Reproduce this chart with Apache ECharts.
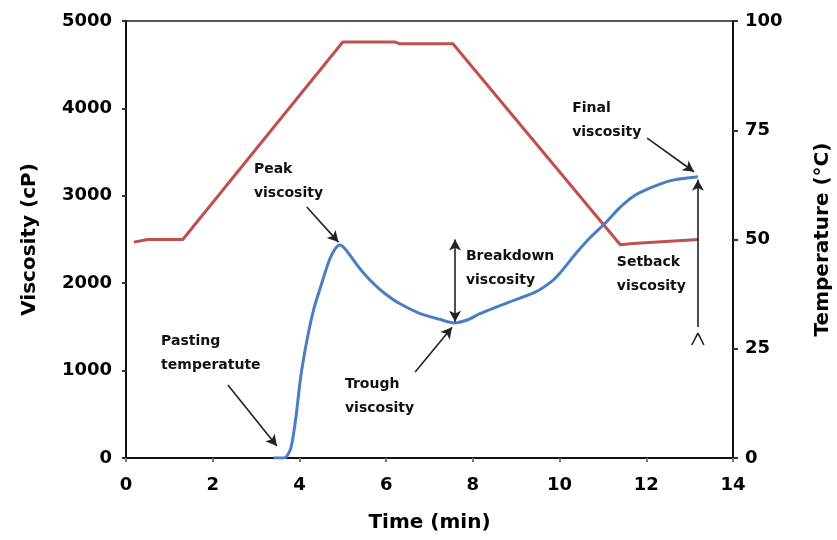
<!DOCTYPE html>
<html>
<head>
<meta charset="utf-8">
<script src="https://cdn.jsdelivr.net/npm/echarts@6/dist/echarts.min.js"></script>
<style>
  html, body { margin: 0; padding: 0; background: #fff; }
  #chart { width: 837px; height: 540px; }
</style>
</head>
<body>
<div id="chart"></div>
<script>
// temperature profile (right axis, °C)
const tempTime = [0.18, 0.5, 1.31, 5.0, 6.2, 6.3, 7.54, 11.4, 11.7, 13.2]
const tempValue = [49.4, 50, 50, 95.2, 95.2, 94.8, 94.8, 48.8, 49.1, 50]

// viscosity curve (left axis, cP)
const viscTime = [3.4, 3.65, 3.8, 3.92, 4.03, 4.19, 4.34, 4.5, 4.69, 4.82, 4.93, 5.05, 5.19, 5.38, 5.61, 5.84, 6.07, 6.3, 6.77, 7.23, 7.57, 7.9, 8.15, 8.77, 9.46, 9.84, 10.0, 10.38, 10.69, 11.08, 11.4, 11.69, 12.0, 12.46, 12.8, 13.19]
const viscValue = [0, 0, 110, 470, 930, 1390, 1720, 1975, 2265, 2390, 2437, 2395, 2303, 2175, 2045, 1935, 1845, 1770, 1655, 1587, 1545, 1585, 1648, 1770, 1903, 2030, 2110, 2342, 2514, 2700, 2870, 2990, 3070, 3160, 3195, 3219]

// annotation labels, anchored in (time, viscosity)
const noteText = ['Peak\nviscosity', 'Pasting\ntemperatute', 'Trough\nviscosity', 'Breakdown\nviscosity', 'Final\nviscosity', 'Setback\nviscosity']
const noteTime = [2.95, 0.81, 5.05, 7.84, 10.29, 11.32]
const noteVisc = [3169, 1201, 709, 2174, 3867, 2105]

// arrows: [fromTime, fromVisc, toTime, toVisc, double-headed]
const arrows = [
  [4.17, 2872, 4.9, 2470, false],
  [2.35, 835, 3.48, 137, false],
  [6.67, 984, 7.52, 1495, false],
  [7.59, 1560, 7.59, 2500, true],
  [12.02, 3661, 13.1, 3275, false],
  [13.19, 1499, 13.19, 3185, false]
]
// small caret under the setback arrow
const caret = [[13.05, 1293], [13.19, 1430], [13.33, 1293]]

const xTicks = { min: 0, max: 14, interval: 2 }
const viscTicks = { min: 0, max: 5000, interval: 1000 }
const tempTicks = { min: 0, max: 100, interval: 25 }

const chart = echarts.init(document.getElementById('chart'))

const tickFont = { fontFamily: 'DejaVu Sans', fontWeight: 'bold', fontSize: 18, color: '#000' }
const titleFont = { fontFamily: 'DejaVu Sans', fontWeight: 'bold', fontSize: 20, color: '#000' }

const arrowLines = arrows.map(a => [
  { coord: [a[0], a[1]], symbol: a[4] ? 'arrow' : 'none' },
  { coord: [a[2], a[3]], symbol: 'arrow' }
])
const caretLines = [
  [{ coord: caret[0], symbol: 'none' }, { coord: caret[1], symbol: 'none' }],
  [{ coord: caret[1], symbol: 'none' }, { coord: caret[2], symbol: 'none' }]
]

const option = {
  animation: false,
  grid: {
    left: 126, right: 104, top: 21, bottom: 82,
    outerBoundsMode: 'none',
    show: true, borderColor: '#555', borderWidth: 2, backgroundColor: 'transparent'
  },
  xAxis: {
    type: 'value',
    ...xTicks,
    name: 'Time (min)',
    nameLocation: 'middle',
    nameGap: 55,
    nameTextStyle: titleFont,
    axisLine: { show: true, lineStyle: { color: '#111', width: 2 } },
    axisTick: { show: true, length: 4, lineStyle: { color: '#777', width: 2 } },
    axisLabel: { ...tickFont, margin: 18 },
    splitLine: { show: false }
  },
  yAxis: [
    {
      type: 'value',
      ...viscTicks,
      name: 'Viscosity (cP)',
      nameLocation: 'middle',
      nameRotate: 90,
      nameGap: 86,
      nameTextStyle: titleFont,
      axisLine: { show: true, lineStyle: { color: '#111', width: 2 } },
      axisTick: { show: true, length: 4, lineStyle: { color: '#333', width: 2 } },
      axisLabel: { ...tickFont, margin: 14, formatter: v => String(v) },
      splitLine: { show: false }
    },
    {
      type: 'value',
      ...tempTicks,
      position: 'right',
      name: 'Temperature (°C)',
      nameLocation: 'middle',
      nameRotate: 90,
      nameGap: 80,
      nameTextStyle: titleFont,
      axisLine: { show: true, lineStyle: { color: '#111', width: 2 } },
      axisTick: { show: true, length: 5, lineStyle: { color: '#333', width: 2 } },
      axisLabel: { ...tickFont, margin: 12, formatter: v => String(v) },
      splitLine: { show: false }
    }
  ],
  series: [
    {
      name: 'Temperature',
      type: 'line',
      yAxisIndex: 1,
      showSymbol: false,
      lineStyle: { color: '#C0504D', width: 3 },
      data: tempTime.map((t, i) => [t, tempValue[i]])
    },
    {
      name: 'Viscosity',
      type: 'line',
      yAxisIndex: 0,
      showSymbol: false,
      smooth: 0.25,
      lineStyle: { color: '#4A7EC2', width: 3 },
      data: viscTime.map((t, i) => [t, viscValue[i]])
    },
    {
      name: 'notes',
      type: 'scatter',
      yAxisIndex: 0,
      symbolSize: 0,
      silent: true,
      itemStyle: { opacity: 1 },
      label: {
        show: true,
        position: [0, 0],
        align: 'left',
        verticalAlign: 'middle',
        formatter: p => p.data[2],
        fontFamily: 'DejaVu Sans',
        fontWeight: 'bold',
        fontSize: 14,
        lineHeight: 24,
        color: '#111'
      },
      data: noteText.map((s, i) => [noteTime[i], noteVisc[i], s]),
      markLine: {
        silent: true,
        symbolSize: [9, 11],
        label: { show: false },
        lineStyle: { color: '#222', width: 1.6, type: 'solid' },
        data: arrowLines.concat(caretLines)
      }
    }
  ]
}

chart.setOption(option)
</script>
</body>
</html>
